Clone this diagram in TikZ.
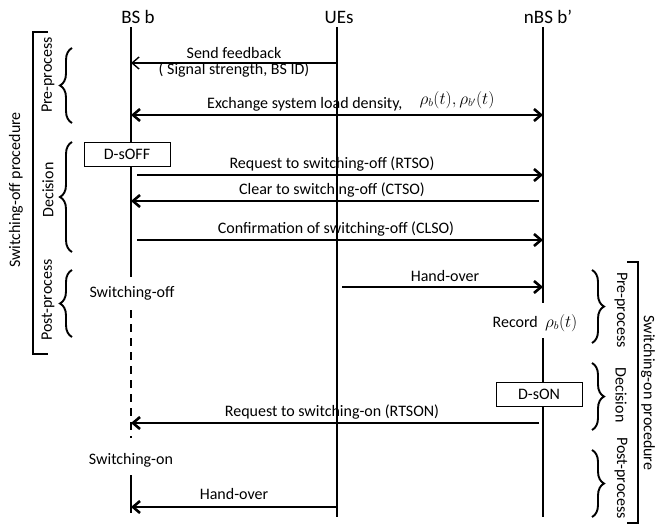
\documentclass[tikz,border=0pt]{standalone}
\usepackage{fontspec}
\setmainfont{Carlito}
\usepackage{tikz}
\usetikzlibrary{
  arrows.meta,
  calc,
  positioning,
  decorations.pathreplacing
}
\tikzset{
  >={Straight Barb[length=7pt,width=12pt]},
  life/.style={draw=black, line width=2.6pt},
  offlife/.style={life, line width=2pt, dash pattern=on 8pt off 6pt},
  msg/.style={draw=black, line width=2.6pt, ->},
  thinmsg/.style={draw=black, line width=1.4pt, ->},
  block/.style={
    draw=black,
    fill=white,
    rectangle,
    line width=0.8pt,
    minimum width=86pt,
    minimum height=24pt,
    inner sep=0pt,
    font=\fontsize{16}{18}\selectfont
  },
  header/.style={font=\fontsize{19}{22}\selectfont, inner sep=0pt},
  msglabel/.style={font=\fontsize{16}{18}\selectfont, inner sep=0pt},
  phase/.style={font=\fontsize{16}{18}\selectfont, inner sep=0pt},
  curl/.style={draw=black, line width=1.9pt, decorate, decoration={brace, amplitude=12pt}},
  bracket/.style={draw=black, line width=1.9pt}
}

\begin{document}
\begin{tikzpicture}[x=1pt, y=-1pt]
  \useasboundingbox (0,0) rectangle (658,527);

  % heads of the three lifelines
  \node[header] (bsb) at (138,17) {BS b};
  \node[header] (ues) at (339,17) {UEs};
  \node[header] (nbs) at (548,17) {nBS b’};

  \coordinate (bsx) at (131,27);
  \coordinate (uex) at (337,27);
  \coordinate (nbx) at (543,27);

  % rows of the messages
  \coordinate (rFb) at (0,63);
  \coordinate (rEx) at (0,115);
  \coordinate (rRtso) at (0,175);
  \coordinate (rCtso) at (0,201);
  \coordinate (rClso) at (0,240);
  \coordinate (rHoA) at (0,287);
  \coordinate (rRtson) at (0,423);
  \coordinate (rHoB) at (0,507);

  % lifelines
  \coordinate (bsOff) at (131,277);
  \coordinate (bsDashA) at (131,310);
  \coordinate (bsDashB) at (131,438);
  \coordinate (bsOn) at (131,475);
  \coordinate (bsEnd) at (131,513);
  \coordinate (ueEnd) at (337,517);
  \coordinate (nbRecA) at (543,303);
  \coordinate (nbRecB) at (543,338);
  \coordinate (nbEnd) at (543,517);

  \draw[life] (bsx) -- (bsOff);
  \draw[offlife] (bsDashA) -- (bsDashB);
  \draw[life] (bsOn) -- (bsEnd);
  \draw[life] (uex) -- (ueEnd);
  \draw[life] (nbx) -- (nbRecA);
  \draw[life] (nbRecB) -- (nbEnd);

  \node[msglabel] (sOff) at (132,293) {Switching-off};
  \node[msglabel] (sOn) at (131,460) {Switching-on};
  \node[msglabel] (rec) at (535,323) {Record\ \ $\rho_b(t)$};

  % decision boxes
  \node[block] (dsoff) at (127,154) {D-sOFF};
  \node[block] (dson) at (539,394) {D-sON};

  % messages
  \draw[thinmsg] (rFb -| uex) -- (rFb -| bsx);
  \node[msglabel] (lFb) at (234,53) {Send feedback};
  \node[msglabel, below=4pt of lFb] (lFbB) {( Signal strength, BS ID)};

  \draw[msg, <->] (rEx -| bsx) -- (rEx -| nbx);
  \node[msglabel, anchor=west] (lEx) at (207,104) {Exchange system load density,};
  \node[msglabel] (lExM) at (457,100) {$\rho_b(t), \rho_{b'}(t)$};

  \draw[msg] ([xshift=6pt]rRtso -| bsx) -- (rRtso -| nbx);
  \node[msglabel] (lRtso) at (332,164) {Request to switching-off (RTSO)};

  \draw[msg] ([xshift=-4pt]rCtso -| nbx) -- (rCtso -| bsx);
  \node[msglabel] (lCtso) at (332,190) {Clear to switching-off (CTSO)};

  \draw[msg] ([xshift=6pt]rClso -| bsx) -- (rClso -| nbx);
  \node[msglabel] (lClso) at (336,229) {Confirmation of switching-off (CLSO)};

  \draw[msg] ([xshift=5pt]rHoA -| uex) -- (rHoA -| nbx);
  \node[msglabel] (lHoA) at (445,276) {Hand-over};

  \draw[msg] ([xshift=-4pt]rRtson -| nbx) -- (rRtson -| bsx);
  \node[msglabel] (lRtson) at (332,412) {Request to switching-on (RTSON)};

  \draw[msg] (rHoB -| uex) -- (rHoB -| bsx);
  \node[msglabel] (lHoB) at (234,494) {Hand-over};

  % switching-off phases
  \draw[bracket] (48,32) -- (33,32) -- (33,354) -- (48,354);
  \node[phase, rotate=90] (offProc) at (16,190) {Switching-off procedure};
  \draw[curl] (72,123) -- (72,48);
  \draw[curl] (72,252) -- (72,142);
  \draw[curl] (72,337) -- (72,270);
  \node[phase, rotate=90] (offPre) at (48,75) {Pre-process};
  \node[phase, rotate=90] (offDec) at (48,190) {Decision};
  \node[phase, rotate=90] (offPost) at (48,300) {Post-process};

  % switching-on phases
  \draw[bracket] (627,262) -- (638,262) -- (638,523) -- (627,523);
  \node[phase, rotate=-90] (onProc) at (648,393) {Switching-on procedure};
  \draw[curl] (592,270) -- (592,343);
  \draw[curl] (592,363) -- (592,430);
  \draw[curl] (592,450) -- (592,517);
  \node[phase, rotate=-90] (onPre) at (621,310) {Pre-process};
  \node[phase, rotate=-90] (onDec) at (621,395) {Decision};
  \node[phase, rotate=-90] (onPost) at (621,478) {Post-process};
\end{tikzpicture}
\end{document}
